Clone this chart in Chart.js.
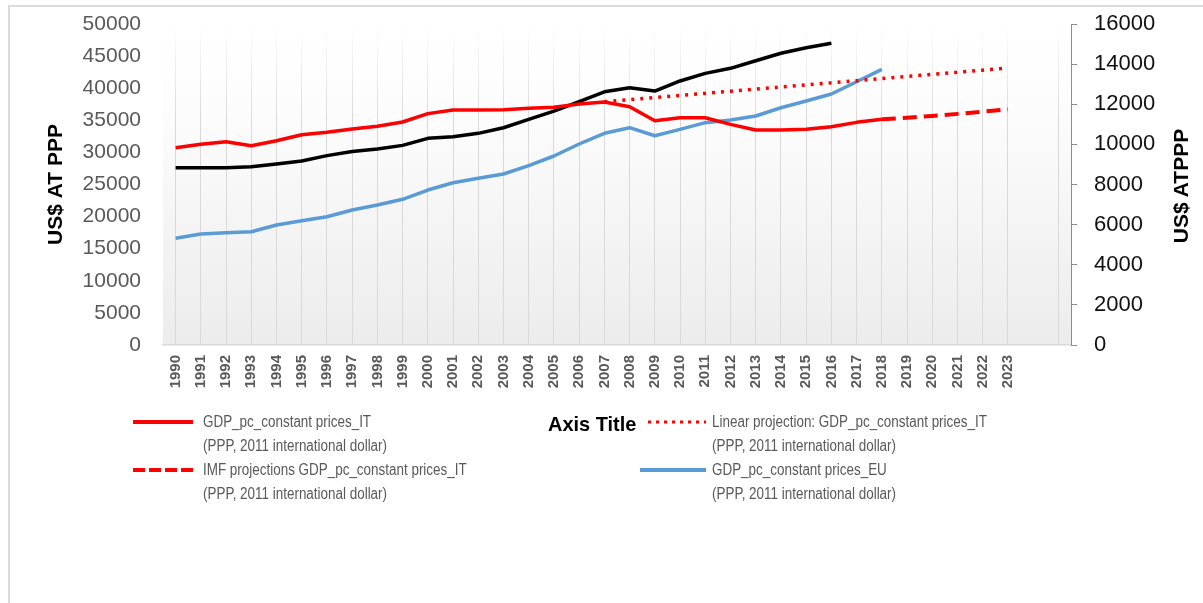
<!DOCTYPE html>
<html>
<head>
<meta charset="utf-8">
<script src="https://cdn.jsdelivr.net/npm/chart.js@4"></script>
<style>
  html, body { margin: 0; padding: 0; background: #fff; }
  #wrap { position: relative; width: 1203px; height: 603px; overflow: hidden; }
  #frame { position: absolute; left: 8px; top: 5px; width: 1200px; height: 600px;
           border-top: 2px solid #dcdcdc; border-left: 2px solid #dcdcdc; }
  canvas { position: absolute; left: 0; top: 0; }
  #keys { position: absolute; left: 0; top: 0; }
  .leg { position: absolute; font-family: "Liberation Sans", sans-serif; font-size: 16px; color: #595959;
         line-height: 24px; white-space: nowrap; transform: scaleX(0.84); transform-origin: 0 0; }
  #axisTitle { position: absolute; left: 548px; top: 410px; font-family: "Liberation Sans", sans-serif;
               font-weight: bold; font-size: 21px; line-height: 28px; color: #000;
               transform: scaleX(0.95); transform-origin: 0 0; }
  #rightTitle { position: absolute; left: 1181px; top: 186px; transform: translate(-50%, -50%) rotate(-90deg);
                font-family: "Liberation Sans", sans-serif; font-weight: bold; font-size: 21px; color: #000; white-space: nowrap; }
</style>
</head>
<body>
<div id="wrap">
  <div id="frame"></div>
  <canvas id="chart" width="1203" height="603"></canvas>
  <svg id="keys" width="1203" height="603"></svg>
  <div id="axisTitle">Axis Title</div>
  <div id="rightTitle">US$ ATPPP</div>
</div>
<script>
// years on the category axis (two empty slots at the end, as in the original sheet)
const years = ['1990','1991','1992','1993','1994','1995','1996','1997','1998','1999',
  '2000','2001','2002','2003','2004','2005','2006','2007','2008','2009',
  '2010','2011','2012','2013','2014','2015','2016','2017','2018','2019',
  '2020','2021','2022','2023','',''];

// GDP pc IT, 1990-2018 (left axis)
const itGdp = [30730, 31260, 31670, 31040, 31820, 32760, 33130, 33640, 34060, 34730,
  36040, 36600, 36620, 36650, 36870, 37020, 37540, 37850, 37120, 34940,
  35400, 35400, 34370, 33490, 33490, 33590, 34000, 34680, 35150];
// linear projection IT, 2007-2023
const itLinear = [37880, 38210, 38540, 38860, 39190, 39520, 39850, 40180, 40510,
  40830, 41160, 41490, 41820, 42150, 42470, 42800, 43130];
// IMF projections IT, 2018-2023
const itImf = [35150, 35400, 35670, 36000, 36340, 36710];
// GDP pc EU, 1990-2018
const euGdp = [16620, 17290, 17490, 17650, 18690, 19360, 19980, 21030, 21810, 22690,
  24140, 25280, 25960, 26630, 27930, 29440, 31310, 32970, 33850, 32600,
  33590, 34630, 35050, 35670, 36960, 38010, 39100, 41010, 42940];
// unlabelled black series, 1990-2016 (right axis)
const blackSeries = [8840, 8840, 8840, 8890, 9020, 9170, 9440, 9640, 9770, 9950,
  10300, 10380, 10550, 10830, 11250, 11660, 12130, 12620, 12820, 12660,
  13160, 13540, 13790, 14170, 14540, 14820, 15040];

const legendNames = [
  ['GDP_pc_constant prices_IT', '(PPP, 2011 international dollar)'],
  ['Linear projection: GDP_pc_constant prices_IT', '(PPP, 2011 international dollar)'],
  ['IMF projections GDP_pc_constant prices_IT', '(PPP, 2011 international dollar)'],
  ['GDP_pc_constant prices_EU', '(PPP, 2011 international dollar)']
];

// put a run of values at its start year, nulls elsewhere
function place(startYear, vals) {
  const out = years.map(() => null);
  const i0 = years.indexOf(startYear);
  vals.forEach((v, i) => { out[i0 + i] = v; });
  return out;
}

const font = '"Liberation Sans", sans-serif';
const plain = v => String(v); // no thousands separator

const plotBg = {
  id: 'plotBg',
  beforeDraw(chart) {
    const { ctx, chartArea: a } = chart;
    const g = ctx.createLinearGradient(0, a.top, 0, a.bottom);
    g.addColorStop(0, '#ffffff');
    g.addColorStop(0.3, '#fcfcfc');
    g.addColorStop(1, '#ececec');
    ctx.save();
    ctx.fillStyle = g;
    ctx.fillRect(a.left, a.top, a.right - a.left, a.bottom - a.top);
    ctx.restore();
  }
};

function gridColor(c) {
  if (c.index === 34) return 'rgba(0,0,0,0)';
  const a = c.chart.chartArea;
  if (!a) return '#d9d9d9';
  const g = c.chart.ctx.createLinearGradient(0, a.top, 0, a.bottom);
  g.addColorStop(0, 'rgba(217,217,217,0)');
  g.addColorStop(0.3, 'rgba(217,217,217,1)');
  g.addColorStop(1, 'rgba(217,217,217,1)');
  return g;
}

// fixed axis sizes, and no extra room above/below for the tick labels
function fitY(w) {
  return s => { s.width = w; s.paddingTop = 0; s.paddingBottom = 0; };
}

new Chart(document.getElementById('chart'), {
  type: 'line',
  data: {
    labels: years,
    datasets: [
      { label: 'GDP_pc_constant prices_IT', data: place('1990', itGdp), yAxisID: 'y',
        borderColor: '#ff0000', borderWidth: 3.5 },
      { label: 'Linear projection', data: place('2007', itLinear), yAxisID: 'y',
        borderColor: '#ff0000', borderWidth: 3.5, borderDash: [3, 6] },
      { label: 'IMF projections', data: place('2018', itImf), yAxisID: 'y',
        borderColor: '#ff0000', borderWidth: 4, borderDash: [14, 7] },
      { label: 'GDP_pc_constant prices_EU', data: place('1990', euGdp), yAxisID: 'y',
        borderColor: '#5b9bd5', borderWidth: 3.5 },
      { label: 'black', data: place('1990', blackSeries), yAxisID: 'y1',
        borderColor: '#000000', borderWidth: 3.5 }
    ]
  },
  options: {
    responsive: false,
    animation: false,
    spanGaps: false,
    elements: { point: { radius: 0 }, line: { tension: 0, borderJoinStyle: 'round', fill: false } },
    layout: { padding: { left: 30, top: 24, right: 0, bottom: 198 } },
    plugins: { legend: { display: false }, tooltip: { enabled: false } },
    scales: {
      x: {
        offset: true,
        grid: { offset: false, drawTicks: false, color: gridColor, lineWidth: 1 },
        border: { color: '#d9d9d9', width: 1.5 },
        ticks: { autoSkip: false, minRotation: 90, maxRotation: 90, padding: 10,
                 color: '#595959', font: { family: font, size: 15, weight: 'bold' } },
        afterFit(s) { s.height = 60; s.paddingLeft = 0; s.paddingRight = 0; }
      },
      y: {
        position: 'left', min: 0, max: 50000,
        grid: { display: false },
        border: { display: false },
        ticks: { stepSize: 5000, padding: 14, color: '#595959', callback: plain,
                 font: { family: font, size: 21 } },
        title: { display: true, text: 'US$ AT PPP', color: '#000',
                 font: { family: font, size: 21, weight: 'bold' }, padding: { top: 14, bottom: 0 } },
        afterFit: fitY(133)
      },
      y1: {
        position: 'right', min: 0, max: 16000,
        grid: { drawOnChartArea: false, drawTicks: true, tickLength: 6, color: '#8c8c8c' },
        border: { display: true, color: '#8c8c8c', width: 1 },
        ticks: { stepSize: 2000, padding: 17, color: '#111', callback: plain,
                 font: { family: font, size: 22 } },
        afterFit: fitY(132)
      }
    }
  },
  plugins: [plotBg]
});

// legend drawn as html/svg below the chart
const svg = document.getElementById('keys');
const NS = 'http://www.w3.org/2000/svg';
function keyLine(x1, x2, y, color, w, dash) {
  const l = document.createElementNS(NS, 'line');
  l.setAttribute('x1', x1); l.setAttribute('x2', x2);
  l.setAttribute('y1', y); l.setAttribute('y2', y);
  l.setAttribute('stroke', color); l.setAttribute('stroke-width', w);
  if (dash) l.setAttribute('stroke-dasharray', dash);
  svg.appendChild(l);
}
keyLine(133, 193, 422, '#ff0000', 4);
keyLine(648, 706, 422, '#ff0000', 3, '3 5');
keyLine(133, 193, 470, '#ff0000', 4, '12 4');
keyLine(640, 706, 470, '#5b9bd5', 4);

const legPos = [[203, 410], [712, 410], [203, 458], [712, 458]];
legendNames.forEach((lines, i) => {
  const d = document.createElement('div');
  d.className = 'leg';
  d.style.left = legPos[i][0] + 'px';
  d.style.top = legPos[i][1] + 'px';
  d.innerHTML = lines.join('<br>');
  document.getElementById('wrap').appendChild(d);
});
</script>
</body>
</html>
